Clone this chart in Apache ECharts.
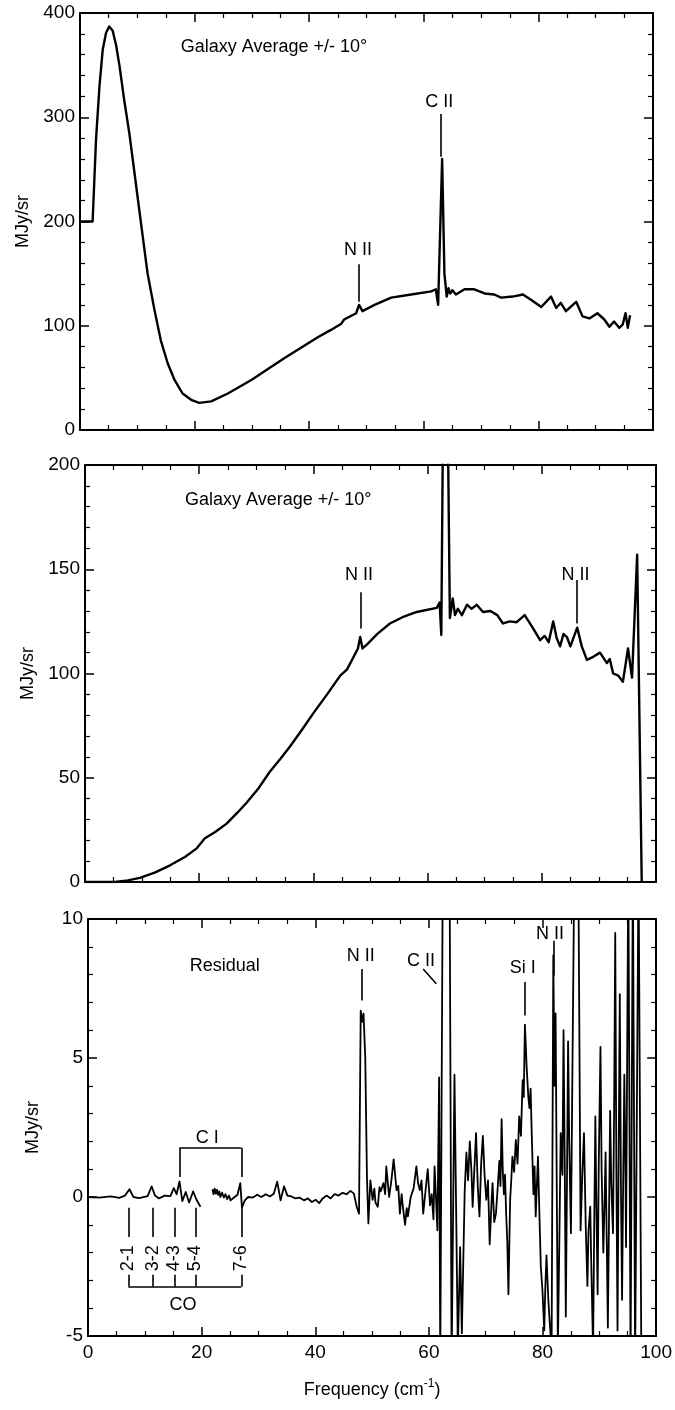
<!DOCTYPE html>
<html>
<head>
<meta charset="utf-8">
<script src="https://cdn.jsdelivr.net/npm/echarts@6/dist/echarts.min.js"></script>
<style>
  html, body { margin: 0; padding: 0; background: #fff; }
  #chart { width: 675px; height: 1410px; }
</style>
</head>
<body>
<div id="chart"></div>
<script>
// Galaxy spectrum (MJy/sr vs frequency in cm^-1): [frequency, intensity]
const galaxySpectrum = [
  [0, 200], [2.2, 200], [2.8, 279], [3.4, 330], [3.97, 365], [4.55, 381], [5.1, 387],
  [5.7, 383], [6.3, 369], [6.9, 349], [7.7, 317], [8.6, 285], [9.5, 247], [10.7, 196],
  [11.8, 150], [13.0, 115], [14.1, 86], [15.3, 64], [16.5, 48], [17.9, 35], [19.4, 29],
  [20.8, 26], [22.9, 27.5], [25.8, 35], [29.9, 48], [35.7, 69], [41.5, 89], [43.8, 96],
  [45.6, 102], [46.1, 106], [48.2, 112], [48.7, 120], [49.3, 114], [51.4, 120], [54.3, 127],
  [57.8, 130], [61.3, 133], [62.1, 135], [62.5, 120], [63.2, 260], [63.6, 150],
  [64.0, 128], [64.3, 136], [64.6, 131], [65.0, 134], [65.6, 130], [67.1, 135],
  [68.8, 135], [70.6, 131], [72.3, 130], [73.5, 127], [75.5, 128], [77.3, 130],
  [78.7, 125], [80.5, 118], [82.2, 128], [83.1, 117], [83.9, 122], [84.8, 114],
  [86.6, 123], [87.7, 109], [88.9, 107], [90.3, 112], [91.5, 106], [92.4, 99],
  [93.2, 104], [94.1, 98], [94.7, 101], [95.2, 112], [95.6, 98], [96.0, 110]
];

// Galaxy spectrum with the cosmic background removed
const galaxyMinusCmb = [
  [0, 0], [5.2, 0], [7.5, 0.8], [9.6, 2], [12.2, 4.5], [14.9, 8], [17.5, 12], [19.5, 16],
  [21.0, 21], [22.8, 24], [24.8, 28], [26.6, 33], [28.3, 38], [30.4, 45], [32.4, 53],
  [34.2, 59], [35.9, 65], [38.0, 73], [40.0, 81], [42.4, 90], [44.7, 99], [45.9, 102],
  [47.8, 112], [48.2, 117.5], [48.6, 112], [49.4, 114], [51.2, 119], [53.4, 124],
  [55.6, 127], [58.1, 129.5], [61.6, 131.5], [62.1, 134], [62.4, 118.5], [62.8, 255],
  [63.4, 255], [63.9, 126.6], [64.4, 136], [64.8, 128], [65.3, 131], [66.0, 128],
  [66.9, 133], [67.7, 131], [68.6, 133], [69.7, 129.5], [71.0, 130], [72.2, 128],
  [73.2, 124], [74.4, 125], [75.6, 124.6], [77.0, 128], [78.4, 122], [79.7, 116],
  [80.5, 118], [81.2, 115], [82.0, 125], [82.6, 117], [83.2, 113], [83.8, 119],
  [84.4, 117.5], [85.0, 113], [86.2, 122], [87.0, 113], [87.9, 106.5], [89.0, 108],
  [90.2, 110], [91.4, 105], [91.9, 107], [92.5, 100], [93.4, 99], [94.2, 96],
  [95.1, 112], [95.8, 98], [96.7, 157], [97.5, 0]
];

// Residual after subtracting the fitted continuum ('-' marks a gap in the data)
const residual = [
  [0, 0], [2, -0.02], [4, 0.02], [5.5, -0.03], [6.5, 0.05], [7.3, 0.28], [8, 0.0],
  [9, -0.04], [10.5, 0.03], [11.2, 0.38], [11.8, 0.05], [12.5, -0.05], [13.5, 0.05],
  [14.5, 0.03], [15.1, 0.32], [15.6, 0.1], [16.1, 0.56], [16.6, -0.15], [17.2, 0.18],
  [17.8, -0.2], [18.5, 0.2], [19.1, -0.1], [19.8, -0.35], [20.8, '-'],
  [21.9, 0.28], [22.1, 0.1], [22.3, 0.3], [22.5, 0.12], [22.7, 0.26], [22.9, 0.08],
  [23.1, 0.2], [23.3, 0.0], [23.6, 0.16], [23.9, -0.02], [24.2, 0.1], [24.5, -0.08],
  [24.8, 0.05], [25.1, -0.12], [25.4, -0.15], [25.8, 0.0], [26.3, 0.07], [26.8, 0.5],
  [27.1, -0.38], [27.6, -0.12], [28.2, 0.0], [29.0, -0.02], [29.8, 0.08], [30.5, 0.0],
  [31.3, 0.1], [32.0, 0.02], [32.7, 0.12], [33.3, 0.55], [33.9, -0.12], [34.5, 0.38],
  [35.1, 0.05], [35.8, 0.02], [36.5, -0.05], [37.2, -0.02], [38.0, -0.12], [38.7, -0.05],
  [39.4, -0.18], [40.1, -0.1], [40.7, -0.22], [41.3, -0.05], [42.0, 0.05], [42.7, -0.05],
  [43.4, 0.1], [44.1, 0.05], [44.8, 0.15], [45.5, 0.1], [46.2, 0.22], [46.8, 0.12],
  [47.3, -0.35], [47.7, -0.6], [48.0, 6.7], [48.3, 6.3], [48.5, 6.6], [48.8, 5.0],
  [49.1, 0.7], [49.35, -0.95], [49.7, 0.6], [50.1, -0.1], [50.4, 0.3], [50.6, -0.2],
  [51.0, -0.35], [51.3, 0.35], [51.5, 0.2], [52.0, 0.5], [52.3, 0.1], [52.5, 1.1],
  [53.0, 0.0], [53.4, 0.6], [53.8, 1.35], [54.1, 0.7], [54.3, 0.25], [54.6, 0.4],
  [54.9, -0.6], [55.2, 0.1], [55.4, -0.3], [55.8, -1.0], [56.1, -0.4], [56.3, -0.7],
  [56.8, 0.0], [57.3, 0.3], [57.8, 1.1], [58.1, 0.5], [58.4, 0.25], [58.7, 0.6],
  [59.0, -0.6], [59.4, 0.2], [59.8, 1.0], [60.2, -0.3], [60.5, 0.1], [60.8, -0.8],
  [61.0, 1.1], [61.2, 0.2], [61.5, -1.2], [61.8, 4.3], [62.0, -6], [62.5, 14],
  [63.6, 14], [64.0, -6], [64.5, 4.4], [65.1, -5.5], [65.5, -1.8], [65.8, -4.9],
  [66.3, 0.2], [66.6, 1.6], [66.9, 0.6], [67.2, 2.0], [67.5, 0.9], [67.7, -0.35],
  [68.0, 1.0], [68.3, 2.3], [68.6, 0.4], [68.9, -0.7], [69.2, 1.2], [69.5, 2.2],
  [69.8, 0.8], [70.1, -0.1], [70.4, 0.6], [70.7, -1.7], [71.0, -0.3], [71.2, 0.5],
  [71.5, -0.9], [71.8, -0.6], [72.1, 0.3], [72.4, 1.3], [72.6, 0.4], [72.8, 2.8],
  [73.0, 1.0], [73.2, 0.1], [73.4, 0.8], [73.6, -0.6], [73.8, -1.6], [74.0, -3.5],
  [74.3, -0.1], [74.5, 0.6], [74.7, 1.45], [75.0, 0.9], [75.3, 2.05], [75.6, 1.2],
  [75.9, 2.9], [76.2, 2.2], [76.5, 4.2], [76.7, 3.6], [76.9, 6.2], [77.2, 4.7],
  [77.5, 3.6], [77.7, 3.2], [77.9, 3.9], [78.1, 2.3], [78.4, 0.1], [78.6, 1.1],
  [78.8, -0.7], [79.0, 0.4], [79.2, 1.45], [79.5, -1.0], [79.7, -2.5], [80.0, -3.4],
  [80.3, -4.8], [80.5, -3.2], [80.7, -2.1], [81.0, -3.6], [81.2, -4.3], [81.6, -5.5],
  [81.9, 8.7], [82.1, 4.0], [82.3, 6.6], [82.7, -5.5], [83.0, -1.0], [83.2, 2.3],
  [83.5, 0.8], [83.7, 6.0], [83.9, 1.5], [84.1, -4.3], [84.3, 0.5], [84.5, 5.6],
  [84.7, 2.0], [85.0, -1.3], [85.6, 12], [86.3, 12], [86.7, -1.2], [87.0, 0.8],
  [87.3, 2.3], [87.6, -1.0], [87.9, -3.2], [88.1, -1.2], [88.4, -0.35], [88.6, -2.6],
  [88.9, -5.5], [89.1, -1.0], [89.3, 2.9], [89.5, -0.6], [89.7, -3.5], [89.9, 1.2],
  [90.2, 5.4], [90.4, 1.0], [90.7, -2.0], [90.9, -0.4], [91.1, 1.6], [91.3, -1.5],
  [91.5, -4.7], [91.7, -0.8], [91.9, 3.1], [92.1, 0.5], [92.4, -1.3], [92.6, 3.0],
  [92.8, 9.5], [93.0, 1.0], [93.2, -4.8], [93.4, 1.5], [93.6, 7.3], [93.8, 0.5],
  [94.0, -3.7], [94.2, 0.6], [94.4, 4.4], [94.6, 0.8], [94.7, -1.8], [95.1, 12],
  [95.5, -6], [95.9, 12], [96.3, -6], [96.9, 12], [97.4, -6]
];

// Axis ticks
const freqTicks = ['0', '20', '40', '60', '80', '100'];

// Text annotations: [frequency, intensity, text, anchor]
const topNotes = [[17.6, 367, 'Galaxy Average +/- 10°', 'left'], [48.5, 173, 'N II', 'c'], [62.7, 315, 'C II', 'c']];
const midNotes = [[17.5, 183, 'Galaxy Average +/- 10°', 'left'], [48.0, 147, 'N II', 'c'], [85.9, 147, 'N II', 'c']];
const resNotes = [[17.9, 8.32, 'Residual', 'left'], [48.0, 8.68, 'N II', 'c'], [58.6, 8.5, 'C II', 'c'],
  [76.5, 8.25, 'Si I', 'c'], [81.3, 9.47, 'N II', 'c'], [21.0, 2.13, 'C I', 'c'], [16.7, -3.88, 'CO', 'c']];
const coTransitions = [[7.1, '2-1'], [11.4, '3-2'], [15.2, '4-3'], [18.9, '5-4'], [27.0, '7-6']];

// Line-marker segments: [[x1, y1], [x2, y2]]
const topMarkers = [[[48.6, 159], [48.6, 123]], [[63.0, 303], [63.0, 262]]];
const midMarkers = [[[48.3, 139], [48.3, 121.6]], [[86.2, 144.8], [86.2, 124]]];
const resMarkers = [
  [[48.1, 8.2], [48.1, 7.07]], [[59.0, 8.2], [61.3, 7.67]], [[76.9, 7.73], [76.9, 6.53]],
  [[82.0, 9.22], [82.0, 7.97]],
  [[16.1, 0.72], [16.1, 1.76]], [[16.1, 1.76], [27.0, 1.76]], [[27.0, 1.76], [27.0, 0.72]],
  [[7.1, -3.22], [27.0, -3.22]]
];
const coTickTop = [-0.39, -1.44];
const coTickBottom = [-2.8, -3.22];
const coLabelY = -2.2;

const FONT = "'Liberation Sans', Arial, sans-serif";
const INK = '#000';

const panels = [
  { top: 13, left: 80, right: 22, ymin: 0, ymax: 400, step: 100, labels: false, nameGap: 44 },
  { top: 465, left: 85, right: 19, ymin: 0, ymax: 200, step: 50, labels: false, nameGap: 48 },
  { top: 919, left: 88, right: 16, ymin: -5, ymax: 10, step: 5, labels: true, nameGap: 46 }
];

const grid = panels.map(p => ({ left: p.left, right: p.right, top: p.top, height: 417 }));

const baseAxis = {
  axisLine: { show: true, onZero: false, lineStyle: { color: INK, width: 2 } },
  axisTick: { show: true, inside: true, length: 9, lineStyle: { color: INK, width: 1.5 } },
  minorTick: { show: true, length: 5, lineStyle: { color: INK, width: 1.2 } },
  splitLine: { show: false },
  minorSplitLine: { show: false }
};

const xAxis = [];
const yAxis = [];
panels.forEach((p, i) => {
  xAxis.push(Object.assign({}, baseAxis, {
    type: 'value', gridIndex: i, position: 'bottom', min: 0, max: 100, interval: 20,
    minorTick: Object.assign({}, baseAxis.minorTick, { splitNumber: 4 }),
    axisLabel: {
      show: p.labels, color: INK, fontFamily: FONT, fontSize: 19, margin: 7,
      formatter: v => freqTicks[Math.round(v / 20)]
    },
    name: p.labels ? '{a|Frequency (cm}{s|-1}{a|)}' : '',
    nameLocation: 'middle', nameGap: 42,
    nameTextStyle: {
      rich: {
        a: { fontFamily: FONT, fontSize: 18, color: INK, lineHeight: 24 },
        s: { fontFamily: FONT, fontSize: 12, color: INK, verticalAlign: 'top', lineHeight: 24 }
      }
    }
  }));
  xAxis.push(Object.assign({}, baseAxis, {
    type: 'value', gridIndex: i, position: 'top', min: 0, max: 100, interval: 20,
    minorTick: Object.assign({}, baseAxis.minorTick, { splitNumber: 4 }),
    axisLabel: { show: false }
  }));
  yAxis.push(Object.assign({}, baseAxis, {
    type: 'value', gridIndex: i, position: 'left', min: p.ymin, max: p.ymax, interval: p.step,
    minorTick: Object.assign({}, baseAxis.minorTick, { splitNumber: 5 }),
    axisLabel: { show: true, color: INK, fontFamily: FONT, fontSize: 19, margin: 5 },
    name: 'MJy/sr', nameLocation: 'middle', nameGap: p.nameGap,
    nameTextStyle: { fontFamily: FONT, fontSize: 18, color: INK }
  }));
  yAxis.push(Object.assign({}, baseAxis, {
    type: 'value', gridIndex: i, position: 'right', min: p.ymin, max: p.ymax, interval: p.step,
    minorTick: Object.assign({}, baseAxis.minorTick, { splitNumber: 5 }),
    axisLabel: { show: false }
  }));
});

function spectrum(data, i, width) {
  return {
    type: 'line', xAxisIndex: 2 * i, yAxisIndex: 2 * i, data: data,
    showSymbol: false, symbol: 'none', clip: true, silent: true,
    lineStyle: { color: INK, width: width, join: 'round' }, z: 3
  };
}

function segs(list) {
  return list.map(s => [
    { coord: s[0], symbol: 'none' },
    { coord: s[1], symbol: 'none' }
  ]);
}

const noteText = { show: true, formatter: '{b}', color: INK, opacity: 1, fontFamily: FONT, fontSize: 18 };

function notes(list, i, markers) {
  return {
    type: 'scatter', xAxisIndex: 2 * i, yAxisIndex: 2 * i, symbolSize: 0, silent: true,
    itemStyle: { opacity: 1, color: INK },
    data: list.map(n => ({
      value: [n[0], n[1]], name: n[2],
      label: Object.assign({}, noteText, n[3] === 'left'
        ? { position: 'right', distance: 0, align: 'left', verticalAlign: 'middle' }
        : { position: 'inside', align: 'center', verticalAlign: 'middle' })
    })),
    label: noteText,
    markLine: {
      silent: true, animation: false, symbol: ['none', 'none'],
      label: { show: false },
      lineStyle: { color: INK, width: 1.6, type: 'solid', opacity: 1 },
      data: segs(markers)
    },
    z: 4
  };
}

// CO transition ticks and their rotated labels
const coSegs = [];
coTransitions.forEach(t => {
  coSegs.push([[t[0], coTickTop[0]], [t[0], coTickTop[1]]]);
  coSegs.push([[t[0], coTickBottom[0]], [t[0], coTickBottom[1]]]);
});
const coLabels = {
  type: 'scatter', xAxisIndex: 4, yAxisIndex: 4, symbolSize: 0, silent: true,
  itemStyle: { opacity: 1, color: INK },
  data: coTransitions.map(t => ({ value: [t[0], coLabelY], name: t[1] })),
  label: Object.assign({}, noteText, { position: 'inside', rotate: 90, fontSize: 18 }),
  markLine: {
    silent: true, animation: false, symbol: ['none', 'none'],
    label: { show: false },
    lineStyle: { color: INK, width: 1.6, type: 'solid', opacity: 1 },
    data: segs(coSegs)
  },
  z: 4
};

const chart = echarts.init(document.getElementById('chart'), null, { renderer: 'canvas' });
chart.setOption({
  animation: false,
  backgroundColor: '#fff',
  grid: grid,
  xAxis: xAxis,
  yAxis: yAxis,
  series: [
    spectrum(galaxySpectrum, 0, 2.4),
    spectrum(galaxyMinusCmb, 1, 2.4),
    spectrum(residual, 2, 1.8),
    notes(topNotes, 0, topMarkers),
    notes(midNotes, 1, midMarkers),
    notes(resNotes, 2, resMarkers),
    coLabels
  ]
});
</script>
</body>
</html>
